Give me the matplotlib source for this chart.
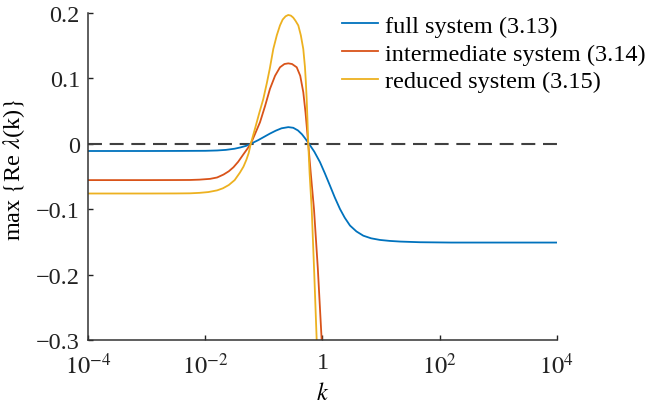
import numpy as np
import matplotlib
matplotlib.use("Agg")
import matplotlib.pyplot as plt

plt.rcParams["font.family"] = ["Liberation Serif", "DejaVu Serif"]
plt.rcParams["mathtext.fontset"] = "stix"

# values, x given as log10(k)
full_logk = [-4.0, -3.0, -2.5, -2.0, -1.8, -1.65, -1.5, -1.4, -1.3, -1.225, -1.1, -1.0,
             -0.9, -0.8, -0.7, -0.584, -0.5, -0.42, -0.35, -0.29, -0.23, -0.14, -0.043,
             0.04, 0.128, 0.21, 0.299, 0.38, 0.47, 0.58, 0.697, 0.83, 0.982, 1.15, 1.33,
             1.665, 2.2, 3.0, 4.0]
full_val = [-0.011, -0.011, -0.0109, -0.0107, -0.0102, -0.0093, -0.0075, -0.0055, -0.0030,
            0.0, 0.0055, 0.0105, 0.0155, 0.0200, 0.0237, 0.0255, 0.0245, 0.0205, 0.0145,
            0.0075, 0.0, -0.0120, -0.028, -0.045, -0.064, -0.082, -0.0997, -0.113,
            -0.125, -0.134, -0.1405, -0.1445, -0.147, -0.1485, -0.1495, -0.1505, -0.151,
            -0.151, -0.151]

inter_logk = [-4.0, -3.0, -2.5, -2.26, -2.1, -1.92, -1.8, -1.69, -1.6, -1.52, -1.44,
              -1.35, -1.29, -1.225, -1.15, -1.067, -0.98, -0.897, -0.81, -0.726, -0.65,
              -0.584, -0.52, -0.44, -0.38, -0.328, -0.29, -0.26, -0.243, -0.20, -0.145,
              -0.08, -0.014]
inter_val = [-0.0555, -0.0555, -0.0554, -0.0553, -0.0548, -0.0536, -0.0515, -0.0470,
             -0.0420, -0.0358, -0.0275, -0.0160, -0.0085, 0.0, 0.0155, 0.033, 0.058,
             0.084, 0.104, 0.117, 0.122, 0.123, 0.122, 0.117, 0.104, 0.079, 0.048,
             0.0176, 0.0, -0.045, -0.10, -0.19, -0.30]

red_logk = [-4.0, -3.0, -2.5, -2.26, -2.1, -1.95, -1.8, -1.7, -1.6, -1.5, -1.41, -1.35,
            -1.3, -1.26, -1.225, -1.15, -1.08, -1.011, -0.95, -0.90, -0.84, -0.78,
            -0.726, -0.68, -0.63, -0.584, -0.54, -0.50, -0.46, -0.413, -0.37, -0.328,
            -0.30, -0.285, -0.270, -0.256, -0.243, -0.22, -0.184, -0.14, -0.099]
red_val = [-0.076, -0.076, -0.0759, -0.0757, -0.0750, -0.0738, -0.0712, -0.0680, -0.0630,
           -0.0555, -0.0440, -0.0350, -0.0245, -0.0140, 0.0, 0.024, 0.047, 0.0685, 0.093,
           0.115, 0.145, 0.166, 0.181, 0.190, 0.195, 0.197, 0.196, 0.193, 0.188, 0.181,
           0.166, 0.145, 0.118, 0.096, 0.0685, 0.035, 0.0, -0.045, -0.10, -0.20, -0.30]

labels = ["full system (3.13)", "intermediate system (3.14)", "reduced system (3.15)"]
colors = ["#0072BD", "#D95319", "#EDB120"]

fig = plt.figure(figsize=(6.53, 4.06), dpi=100)
ax = fig.add_axes([0.1352, 0.1601, 0.7173, 0.8054])

ax.plot([1e-4, 1e4], [0, 0], ls=(0, (6.7, 3.7)), color="#404040", lw=1.5)
for lk, v, lab, c in zip([full_logk, inter_logk, red_logk],
                         [full_val, inter_val, red_val], labels, colors):
    ax.plot(10 ** np.array(lk), v, color=c, lw=1.3, label=lab)

ax.set_xscale("log")
ax.set_xlim(1e-4, 1e4)
ax.set_ylim(-0.3, 0.2)
ax.set_xticks([1e-4, 1e-2, 1, 1e2, 1e4])
ax.set_xticklabels(["$10^{-4}$", "$10^{-2}$", "1", "$10^{2}$", "$10^{4}$"])
ax.minorticks_off()
ax.set_yticks([-0.3, -0.2, -0.1, 0, 0.1, 0.2])
ax.set_yticklabels(["\u22120.3", "\u22120.2", "\u22120.1", "0", "0.1", "0.2"])
ax.tick_params(direction="in", length=3.6, width=1, labelsize=17.5, colors="#222222",
               pad=6)
ax.tick_params(axis="x", pad=9)
for s in ["top", "right"]:
    ax.spines[s].set_visible(False)
for s in ["left", "bottom"]:
    ax.spines[s].set_color("#333333")
    ax.spines[s].set_linewidth(1.1)

ax.set_xlabel("$k$", fontsize=17.5, labelpad=3)
ax.set_ylabel(r"max $\{$Re $\lambda$(k)$\}$", fontsize=17.5)
ax.yaxis.set_label_coords(-0.13, 0.525)

ax.legend(loc="upper left", bbox_to_anchor=(0.541, 0.994), frameon=False, fontsize=17.5,
          labelspacing=0.23, handlelength=1.5, handletextpad=0.29, borderpad=0,
          borderaxespad=0)

fig.savefig("out.png", dpi=100)
